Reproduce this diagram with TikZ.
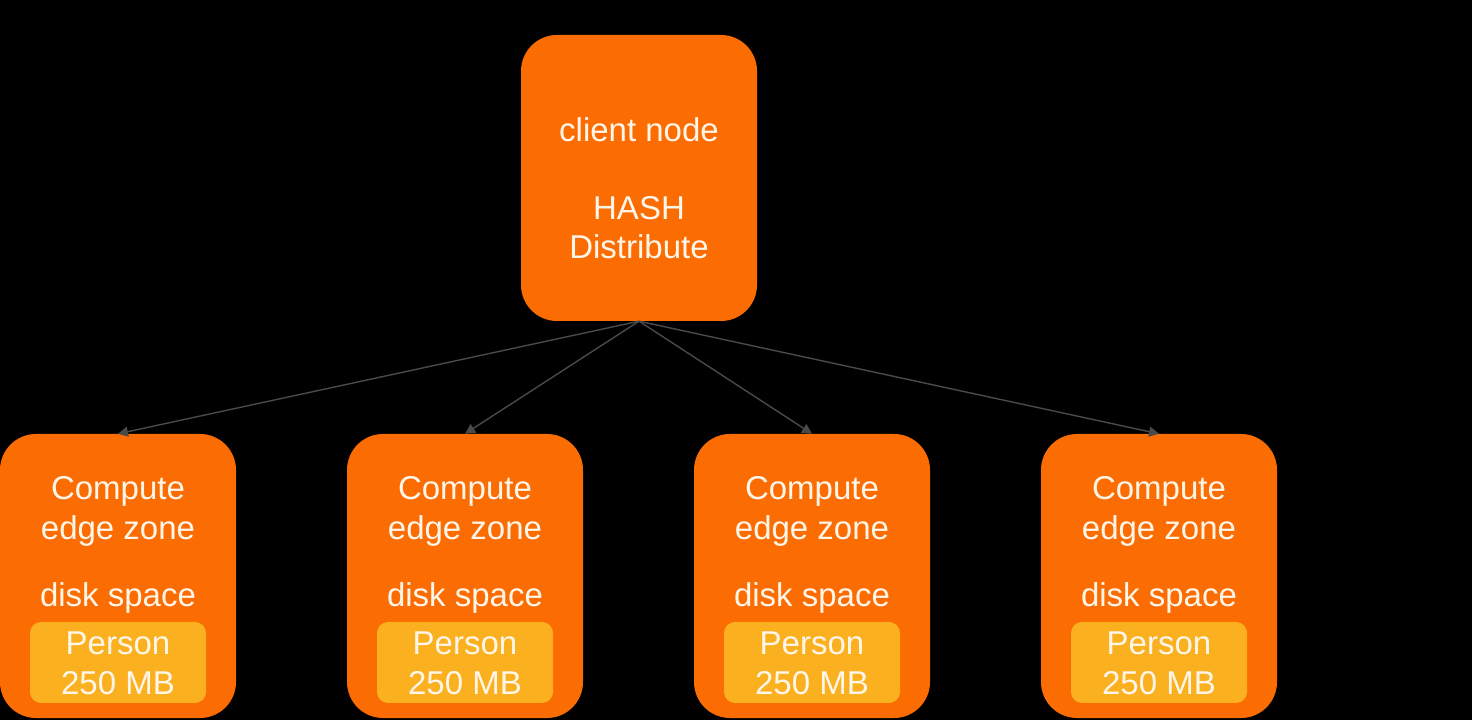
\documentclass[tikz,border=0pt]{standalone}
\usepackage{fontspec}
\setmainfont{Liberation Sans}
\usetikzlibrary{arrows.meta}
\definecolor{boxorange}{HTML}{FB6C02}
\definecolor{boxyellow}{HTML}{FBB01F}
\definecolor{txt}{HTML}{FFF6EA}
\definecolor{conn}{HTML}{4A4A4A}
\tikzset{
  bigbox/.style={draw=none, fill=boxorange, rounded corners=36pt, minimum width=236pt, inner sep=0pt},
  diskbox/.style={draw=none, fill=boxyellow, rounded corners=11pt, minimum width=176pt, minimum height=81pt, inner sep=0pt},
  lbl/.style={text=txt, anchor=base, inner sep=0pt, font=\fontsize{33}{39}\selectfont},
  conn/.style={draw=conn, line width=1.4pt, -{Triangle[length=10pt,width=10pt]}}
}
\begin{document}
\begin{tikzpicture}[x=1pt,y=1pt]
\fill[black] (0,0) rectangle (1472,720);
\useasboundingbox (0,0) rectangle (1472,720);
\node[bigbox, minimum height=286pt] (top) at (639,542) {};
\node[lbl] (t1) at (639,578) {client node};
\node[lbl] (t2) at (639,500) {HASH};
\node[lbl] (t3) at (639,461) {Distribute};
\foreach \i/\x in {1/118, 2/465, 3/812, 4/1159} {
  \node[bigbox, minimum height=284pt] (b\i) at (\x,144) {};
  \node[diskbox] (d\i) at (\x,57.5) {};
  \node[lbl] (c\i) at (\x,220) {Compute};
  \node[lbl] (e\i) at (\x,180) {edge zone};
  \node[lbl] (s\i) at (\x,113) {disk space};
  \node[lbl] (p\i) at (\x,65) {Person};
  \node[lbl] (m\i) at (\x,26) {250 MB};
  \draw[conn] (top.south) -- (b\i.north);
}
\end{tikzpicture}
\end{document}
